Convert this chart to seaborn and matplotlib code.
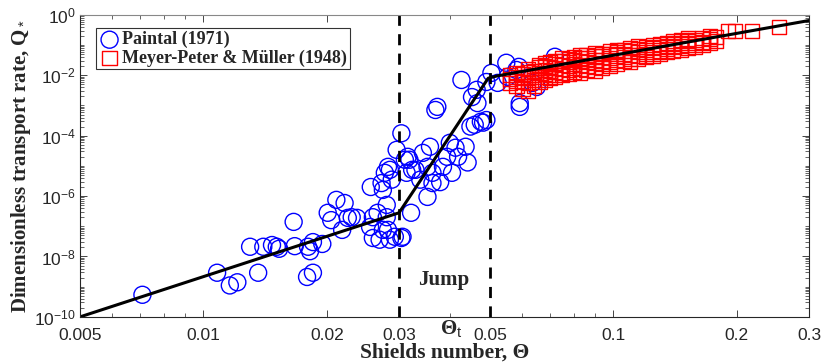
import numpy as np
import pandas as pd
import matplotlib
matplotlib.use("Agg")
import matplotlib.pyplot as plt
import seaborn as sns
from matplotlib.ticker import FixedLocator, NullFormatter

# Paintal (1971) points
paintal_theta = [0.0071, 0.0108, 0.0116, 0.0121, 0.0130, 0.0136, 0.0140, 0.0147, 0.0151, 0.0153,
                 0.0166, 0.0167, 0.0179, 0.0180, 0.0182, 0.0185, 0.0185, 0.0195, 0.0201, 0.0205,
                 0.0211, 0.0218, 0.0221, 0.0225, 0.0230, 0.0237, 0.0255, 0.0256, 0.0259, 0.0259,
                 0.0266, 0.0269, 0.0272, 0.0274, 0.0274, 0.0277, 0.0280, 0.0280, 0.0282, 0.0282,
                 0.0285, 0.0285, 0.0288, 0.0293, 0.0296, 0.0304, 0.0304, 0.0310, 0.0313, 0.0318,
                 0.0321, 0.0323, 0.0315, 0.0329, 0.0338, 0.0343, 0.0352, 0.0352, 0.0362, 0.0362,
                 0.0368, 0.0372, 0.0378, 0.0384, 0.0393, 0.0399, 0.0404, 0.0412, 0.0418, 0.0426,
                 0.0436, 0.0441, 0.0448, 0.0452, 0.0459, 0.0464, 0.0466, 0.0475, 0.0481, 0.0490,
                 0.0490, 0.0504, 0.0522, 0.0548, 0.0552, 0.0580, 0.0588, 0.0591, 0.0591, 0.0720,
                 0.0635, 0.0650, 0.0357, 0.0306]
paintal_q = [5.4e-10, 2.9e-9, 1.1e-9, 1.4e-9, 2.1e-8, 2.9e-9, 2.1e-8, 2.4e-8, 2.1e-8, 1.8e-8,
             1.4e-7, 2.2e-8, 2.1e-9, 2.1e-8, 1.5e-8, 3.0e-8, 2.9e-9, 2.6e-8, 2.8e-7, 1.6e-7,
             7.5e-7, 7.6e-8, 5.9e-7, 1.9e-7, 2.0e-7, 1.9e-7, 9.5e-8, 2.0e-6, 2.0e-7, 4.1e-8,
             2.8e-7, 3.6e-8, 2.7e-6, 7.6e-8, 1.6e-6, 5.9e-6, 2.0e-7, 5.1e-7, 9.3e-6, 7.6e-8,
             3.6e-8, 7.4e-6, 3.5e-6, 4.5e-8, 3.4e-5, 1.2e-4, 4.1e-8, 1.6e-5, 5.9e-6, 1.6e-5,
             2.8e-7, 7.4e-6, 2.0e-5, 7.4e-6, 3.5e-6, 2.7e-5, 9.3e-6, 9.4e-7, 5.9e-6, 2.7e-6,
             7.1e-4, 9.0e-4, 2.9e-6, 9.3e-6, 2.0e-5, 5.8e-5, 5.9e-6, 4.0e-5, 2.0e-5, 7.0e-3,
             4.3e-5, 1.3e-5, 2.0e-4, 1.9e-3, 2.3e-4, 3.3e-3, 1.2e-3, 2.9e-4, 2.7e-4, 6.0e-3,
             3.3e-4, 1.2e-2, 5.6e-3, 2.6e-2, 8.9e-3, 1.5e-2, 1.9e-2, 9.0e-4, 1.2e-3, 4.1e-2,
             5.6e-3, 4.1e-3, 4.3e-5, 4.5e-8]

# Meyer-Peter & Muller (1948) points
mpm_theta = [0.056, 0.056, 0.056,
             0.058, 0.058, 0.058, 0.058,
             0.060, 0.060, 0.060, 0.060,
             0.062, 0.062, 0.062, 0.062, 0.062,
             0.064, 0.064, 0.064, 0.064,
             0.066, 0.066, 0.066, 0.066, 0.066,
             0.068, 0.068, 0.068, 0.068, 0.068,
             0.070, 0.070, 0.070, 0.070, 0.070,
             0.072, 0.072, 0.072, 0.072, 0.072,
             0.075, 0.075, 0.075, 0.075, 0.075, 0.075,
             0.078, 0.078, 0.078, 0.078, 0.078,
             0.080, 0.080, 0.080, 0.080, 0.080,
             0.083, 0.083, 0.083, 0.083, 0.083, 0.083,
             0.086, 0.086, 0.086, 0.086, 0.086,
             0.090, 0.090, 0.090, 0.090, 0.090, 0.090,
             0.094, 0.094, 0.094, 0.094, 0.094,
             0.098, 0.098, 0.098, 0.098, 0.098,
             0.102, 0.102, 0.102, 0.102, 0.102,
             0.106, 0.106, 0.106, 0.106,
             0.110, 0.110, 0.110, 0.110, 0.110,
             0.115, 0.115, 0.115, 0.115, 0.115,
             0.120, 0.120, 0.120, 0.120,
             0.125, 0.125, 0.125, 0.125,
             0.130, 0.130, 0.130, 0.130,
             0.135, 0.135, 0.135, 0.135,
             0.140, 0.140, 0.140, 0.140,
             0.146, 0.146, 0.146, 0.146,
             0.152, 0.152, 0.152, 0.152,
             0.158, 0.158, 0.158,
             0.165, 0.165, 0.165,
             0.172, 0.172, 0.172,
             0.178, 0.178,
             0.190, 0.198, 0.218, 0.253]
mpm_q = [0.0055, 0.0075, 0.010,
         0.0045, 0.0065, 0.009, 0.012,
         0.0035, 0.006, 0.008, 0.011,
         0.003, 0.0055, 0.0085, 0.013, 0.016,
         0.0045, 0.007, 0.010, 0.014,
         0.006, 0.009, 0.012, 0.018, 0.022,
         0.007, 0.011, 0.015, 0.020, 0.026,
         0.008, 0.010, 0.014, 0.019, 0.028,
         0.009, 0.013, 0.017, 0.024, 0.030,
         0.010, 0.012, 0.016, 0.022, 0.030, 0.036,
         0.011, 0.015, 0.020, 0.027, 0.035,
         0.013, 0.018, 0.024, 0.032, 0.040,
         0.012, 0.016, 0.022, 0.029, 0.038, 0.046,
         0.015, 0.020, 0.027, 0.036, 0.048,
         0.014, 0.019, 0.025, 0.033, 0.044, 0.055,
         0.018, 0.024, 0.031, 0.042, 0.052,
         0.020, 0.028, 0.037, 0.050, 0.062,
         0.024, 0.033, 0.045, 0.058, 0.070,
         0.030, 0.040, 0.052, 0.066,
         0.027, 0.036, 0.048, 0.062, 0.078,
         0.034, 0.045, 0.058, 0.075, 0.090,
         0.040, 0.052, 0.068, 0.085,
         0.045, 0.060, 0.078, 0.100,
         0.050, 0.066, 0.088, 0.110,
         0.058, 0.075, 0.096, 0.120,
         0.065, 0.085, 0.110, 0.135,
         0.072, 0.095, 0.120, 0.150,
         0.080, 0.105, 0.135, 0.165,
         0.090, 0.115, 0.150,
         0.100, 0.130, 0.170,
         0.12, 0.16, 0.20,
         0.14, 0.18,
         0.30, 0.30, 0.30, 0.40]

# piecewise transport law (black line)
law_theta = [0.005, 0.030, 0.0495, 0.052, 0.300]
law_q = [1.0e-10, 2.8e-7, 8.0e-3, 9.5e-3, 0.65]

jump_lines = [0.03, 0.05]
xtick_vals = [0.005, 0.01, 0.02, 0.03, 0.05, 0.1, 0.2, 0.3]
xtick_labels = ["0.005", "0.01", "0.02", "0.03", "0.05", "0.1", "0.2", "0.3"]
ytick_vals = [1e-10, 1e-8, 1e-6, 1e-4, 1e-2, 1e0]
ytick_labels = [r"$10^{-10}$", r"$10^{-8}$", r"$10^{-6}$", r"$10^{-4}$", r"$10^{-2}$", r"$10^{0}$"]

sns.set_style("ticks")
plt.rcParams["font.family"] = ["Liberation Sans", "DejaVu Sans"]
plt.rcParams["mathtext.fontset"] = "custom"
plt.rcParams["mathtext.rm"] = "Liberation Sans"
plt.rcParams["mathtext.it"] = "Liberation Sans:italic"

fig = plt.figure(figsize=(8.22, 3.63), dpi=100)
ax = fig.add_axes([0.0973, 0.127, 0.8869, 0.832])

paintal = pd.DataFrame({"theta": paintal_theta, "q": paintal_q})
mpm = pd.DataFrame({"theta": mpm_theta, "q": mpm_q})
law = pd.DataFrame({"theta": law_theta, "q": law_q})

sns.scatterplot(data=paintal, x="theta", y="q", marker="o", s=150, facecolors="none",
                edgecolor="#0000ff", linewidth=1.0, label="Paintal (1971)", ax=ax)
sns.scatterplot(data=mpm, x="theta", y="q", marker="s", s=105, facecolors="none",
                edgecolor="#ff0000", linewidth=1.0, label="Meyer-Peter & Müller (1948)", ax=ax)
sns.lineplot(data=law, x="theta", y="q", color="black", linewidth=2.2, sort=False,
             estimator=None, ax=ax, legend=False)
for xv in jump_lines:
    ax.axvline(xv, color="black", linestyle=(0, (4, 3)), linewidth=2.0)

ax.set_xscale("log")
ax.set_yscale("log")
ax.set_xlim(0.005, 0.3)
ax.set_ylim(1e-10, 1e0)

ax.xaxis.set_major_locator(FixedLocator(xtick_vals))
ax.set_xticklabels(xtick_labels)
ax.xaxis.set_minor_locator(FixedLocator([0.006, 0.007, 0.008, 0.009, 0.04, 0.06, 0.07, 0.08, 0.09]))
ax.xaxis.set_minor_formatter(NullFormatter())
ax.yaxis.set_major_locator(FixedLocator(ytick_vals))
ax.set_yticklabels(ytick_labels)
ymin = []
for e in range(-10, 0):
    for m in range(1, 10):
        v = m * 10.0 ** e
        if v not in ytick_vals:
            ymin.append(v)
ax.yaxis.set_minor_locator(FixedLocator(ymin))
ax.yaxis.set_minor_formatter(NullFormatter())
ax.tick_params(which="both", direction="in", top=True, right=True, labelsize=12.5)
ax.tick_params(axis="x", pad=8)
ax.tick_params(axis="y", pad=3)
ax.tick_params(which="major", length=5, width=0.6)
ax.tick_params(which="minor", length=3, width=0.5)
for sp in ax.spines.values():
    sp.set_linewidth(0.8)
    sp.set_visible(True)
ax.spines["top"].set_color("#888888")

serif = ["Liberation Serif", "DejaVu Serif"]
ax.set_xlabel("Shields number, Θ", family=serif, fontweight="bold", fontsize=15.5, labelpad=0)
ax.set_ylabel(r"Dimensionless transport rate, Q$_*$", family=serif, fontweight="bold",
              fontsize=15, labelpad=1)
ax.text(0.0385, 1.7e-9, "Jump", family=serif, fontweight="bold", fontsize=15,
        ha="center", va="center")
ax.annotate(r"Θ$_{\rm t}$", xy=(0.0402, 0), xycoords=("data", "axes fraction"),
            xytext=(0, -1), textcoords="offset points", family=serif, fontweight="bold",
            fontsize=15, ha="center", va="top")

leg = ax.legend(loc="upper left", bbox_to_anchor=(0.022, 0.955), frameon=True, fancybox=False,
                borderpad=0.15, handletextpad=0.1, labelspacing=0.05, borderaxespad=0,
                handlelength=1.2, prop={"family": serif, "weight": "bold", "size": 13})
leg.get_frame().set_edgecolor("black")
leg.get_frame().set_linewidth(0.8)

fig.savefig("out.png", dpi=100)
